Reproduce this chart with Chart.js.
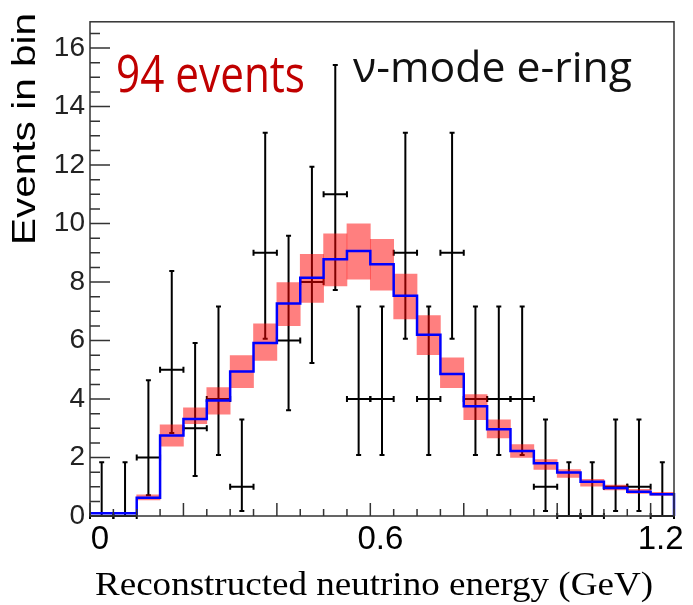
<!DOCTYPE html>
<html>
<head>
<meta charset="utf-8">
<script src="https://cdn.jsdelivr.net/npm/chart.js@4.4.1/dist/chart.umd.min.js"></script>
<style>
  html, body { margin: 0; padding: 0; background: #fff; }
  #wrap { width: 693px; height: 605px; position: relative; }
</style>
</head>
<body>
<div id="wrap"><canvas id="myChart"></canvas></div>
<script>
// bins: 25 bins of 0.05 GeV
const binEdges = [0, 0.05, 0.1, 0.15, 0.2, 0.25, 0.3, 0.35, 0.4, 0.45, 0.5, 0.55, 0.6,
                  0.65, 0.7, 0.75, 0.8, 0.85, 0.9, 0.95, 1.0, 1.05, 1.1, 1.15, 1.2, 1.25];

// observed events (94 total) and 68% poisson limits
const dataCounts = [0, 0, 2, 5, 3, 4, 1, 9, 6, 8, 11, 4, 4, 9, 4, 9, 4, 4, 4, 1, 0, 0, 1, 1, 0];
const dataLow  = [0, 0, 0.71, 2.84, 1.37, 2.09, 0.17, 6.06, 3.62, 5.23, 7.73, 2.09, 2.09,
                  6.06, 2.09, 6.06, 2.09, 2.09, 2.09, 0.17, 0, 0, 0.17, 0.17, 0];
const dataHigh = [1.84, 1.84, 4.64, 8.38, 5.92, 7.16, 3.30, 13.11, 9.58, 11.94, 15.42, 7.16, 7.16,
                  13.11, 7.16, 13.11, 7.16, 7.16, 7.16, 3.30, 1.84, 1.84, 3.30, 3.30, 1.84];

// MC prediction (blue) and the red band
const mcPred   = [0.09, 0.09, 0.62, 2.75, 3.32, 3.95, 4.94, 5.92, 7.27, 8.15, 8.78, 9.06, 8.61,
                  7.53, 6.20, 4.86, 3.75, 2.97, 2.22, 1.80, 1.49, 1.17, 0.96, 0.83, 0.74];
const bandLow  = [0.08, 0.08, 0.55, 2.39, 3.16, 3.48, 4.39, 5.32, 6.51, 7.30, 7.87, 8.10, 7.72,
                  6.74, 5.52, 4.39, 3.29, 2.67, 2.00, 1.59, 1.32, 1.02, 0.89, 0.77, 0.70];
const bandHigh = [0.10, 0.10, 0.72, 3.12, 3.70, 4.39, 5.49, 6.57, 7.98, 8.95, 9.65, 9.99, 9.46,
                  8.27, 6.85, 5.41, 4.15, 3.29, 2.44, 1.93, 1.59, 1.25, 1.06, 0.91, 0.81];

const xTickValues = [0, 0.6, 1.2];
const xTickLabels = ['0', '0.6', '1.2'];
const yTickValues = [0, 2, 4, 6, 8, 10, 12, 14, 16];
const yTickLabels = ['0', '2', '4', '6', '8', '10', '12', '14', '16'];

const nBins = dataCounts.length;
const binCenter = i => (binEdges[i] + binEdges[i + 1]) / 2;

// step histogram points
const stepPoints = mcPred.map((v, i) => ({ x: binEdges[i], y: v }));
stepPoints.push({ x: binEdges[nBins], y: mcPred[nBins - 1] });
stepPoints.push({ x: binEdges[nBins], y: 0 });

const bandBars = mcPred.map((v, i) => ({ x: binCenter(i), y: [bandLow[i], bandHigh[i]] }));

// data crosses go under everything else
const errorBars = {
  id: 'errorBars',
  beforeDatasetsDraw(chart) {
    const { ctx, scales: { x, y } } = chart;
    ctx.save();
    ctx.strokeStyle = '#000';
    ctx.lineWidth = 2;
    dataCounts.forEach((n, i) => {
      const xl = x.getPixelForValue(binEdges[i]);
      const xr = x.getPixelForValue(binEdges[i + 1]);
      const xc = x.getPixelForValue(binCenter(i));
      const yv = y.getPixelForValue(n);
      const yl = y.getPixelForValue(dataLow[i]);
      const yh = y.getPixelForValue(dataHigh[i]);
      ctx.beginPath();
      ctx.moveTo(xc, yl); ctx.lineTo(xc, yh);
      ctx.moveTo(xl, yv); ctx.lineTo(xr, yv);
      ctx.moveTo(xc - 2.5, yl); ctx.lineTo(xc + 2.5, yl);
      ctx.moveTo(xc - 2.5, yh); ctx.lineTo(xc + 2.5, yh);
      ctx.moveTo(xl, yv - 3); ctx.lineTo(xl, yv + 3);
      ctx.moveTo(xr, yv - 3); ctx.lineTo(xr, yv + 3);
      ctx.stroke();
    });
    ctx.restore();
  }
};

// ROOT style frame with inward ticks
const frameTicks = {
  id: 'frameTicks',
  afterDatasetsDraw(chart) {
    const { ctx, chartArea: { left, right, top, bottom }, scales: { x, y } } = chart;
    ctx.save();
    ctx.strokeStyle = '#333';
    ctx.lineWidth = 1.5;
    ctx.strokeRect(left, top, right - left, bottom - top);
    ctx.beginPath();
    for (let k = 0; k * 0.5 <= y.max; k++) {
      const py = y.getPixelForValue(k * 0.5);
      ctx.moveTo(left, py);
      ctx.lineTo(left + (k % 4 === 0 ? 20 : 10), py);
    }
    for (let k = 0; k * 0.05 <= x.max + 1e-9; k++) {
      const px = x.getPixelForValue(k * 0.05);
      ctx.moveTo(px, bottom);
      ctx.lineTo(px, bottom - (k % 4 === 0 ? 13 : 7));
    }
    ctx.stroke();
    ctx.restore();
  }
};

// text squeezed/stretched to the box seen in the picture
function fitText(ctx, text, font, color, xLeft, yBase, width, rotate) {
  ctx.save();
  ctx.font = font;
  ctx.fillStyle = color;
  ctx.textBaseline = 'alphabetic';
  const w = ctx.measureText(text).width;
  ctx.translate(xLeft, yBase);
  if (rotate) ctx.rotate(-Math.PI / 2);
  ctx.scale(width / w, 1);
  ctx.fillText(text, 0, 0);
  ctx.restore();
}

const annotations = {
  id: 'annotations',
  afterDraw(chart) {
    const { ctx } = chart;
    fitText(ctx, '94 events', '52px "Open Sans"', '#c00000', 116, 92, 189);
    fitText(ctx, 'ν-mode e-ring', '42px "Open Sans"', '#111', 353, 82, 279);
    fitText(ctx, 'Reconstructed neutrino energy (GeV)', '33px "Liberation Serif"', '#000', 95, 595, 558);
    fitText(ctx, 'Events in bin', '33px "Liberation Sans"', '#000', 35, 245, 232, true);
  }
};

const config = {
  type: 'bar',
  data: {
    datasets: [
      {
        type: 'line',
        label: 'MC',
        data: stepPoints,
        stepped: 'before',
        borderColor: '#0000ff',
        borderWidth: 2.5,
        pointRadius: 0,
        fill: false,
        clip: 4,
        order: 1
      },
      {
        type: 'bar',
        label: 'band',
        data: bandBars,
        backgroundColor: 'rgba(255, 0, 0, 0.5)',
        borderWidth: 0,
        barPercentage: 1,
        categoryPercentage: 1,
        order: 2
      }
    ]
  },
  options: {
    responsive: true,
    maintainAspectRatio: false,
    animation: false,
    layout: { padding: { top: 20, right: 19, left: 0, bottom: 0 } },
    plugins: {
      legend: { display: false },
      tooltip: { enabled: false }
    },
    scales: {
      x: {
        type: 'linear',
        min: 0,
        max: 1.25,
        offset: false,
        grid: { display: false, drawTicks: false },
        border: { display: false },
        afterBuildTicks: (s) => { s.ticks = xTickValues.map(v => ({ value: v })); },
        ticks: {
          autoSkip: false,
          maxRotation: 0,
          labelOffset: 10,
          padding: 4,
          color: '#000',
          font: { family: '"Liberation Sans", Arial', size: 33 },
          callback: (v) => {
            const k = xTickValues.findIndex(t => Math.abs(t - v) < 1e-6);
            return k >= 0 ? xTickLabels[k] : '';
          }
        },
        afterFit: (s) => { s.height = 89; }
      },
      y: {
        min: 0,
        max: 16.9,
        grid: { display: false, drawTicks: false },
        border: { display: false },
        afterBuildTicks: (s) => { s.ticks = yTickValues.map(v => ({ value: v })); },
        ticks: {
          autoSkip: false,
          padding: 5,
          color: '#222',
          font: { family: '"Liberation Sans", Arial', size: 28 },
          callback: (v) => {
            const k = yTickValues.indexOf(v);
            return k >= 0 ? yTickLabels[k] : '';
          }
        },
        afterFit: (s) => { s.width = 90; }
      }
    }
  },
  plugins: [errorBars, frameTicks, annotations]
};

const myChart = new Chart(document.getElementById('myChart'), config);
</script>
</body>
</html>
